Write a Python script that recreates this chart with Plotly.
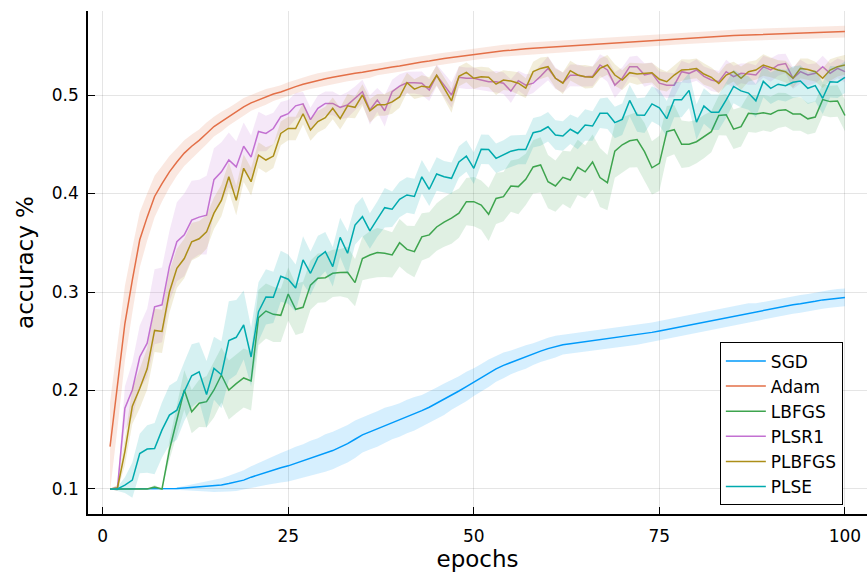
import plotly.graph_objects as go

# Training accuracy per epoch (mean over runs) and spread (std, in thousandths)
epochs = list(range(1, 101))

sgd = [0.100, 0.100, 0.100, 0.100, 0.100, 0.100, 0.100, 0.100, 0.100, 0.1005,
       0.101, 0.1015, 0.102, 0.1025, 0.103, 0.104, 0.1055, 0.107, 0.109, 0.112,
       0.1145, 0.117, 0.1195, 0.1215, 0.1235, 0.126, 0.1285, 0.131, 0.1335, 0.1365,
       0.139, 0.1425, 0.146, 0.1505, 0.155, 0.158, 0.161, 0.1645, 0.1675, 0.170,
       0.1735, 0.1765, 0.1795, 0.183, 0.187, 0.191, 0.1955, 0.1995, 0.204, 0.2085,
       0.213, 0.2175, 0.222, 0.2255, 0.2285, 0.2315, 0.234, 0.237, 0.240, 0.2425,
       0.2445, 0.2465, 0.2475, 0.2485, 0.2495, 0.2505, 0.2515, 0.2525, 0.2535, 0.2545,
       0.2555, 0.2565, 0.2575, 0.259, 0.2605, 0.262, 0.2635, 0.265, 0.2665, 0.268,
       0.2695, 0.271, 0.2725, 0.274, 0.2755, 0.277, 0.2785, 0.2795, 0.281, 0.2825,
       0.284, 0.2855, 0.287, 0.288, 0.289, 0.2905, 0.292, 0.293, 0.294, 0.2945]

adam = [0.143, 0.204, 0.268, 0.312, 0.353, 0.376, 0.397, 0.410, 0.422, 0.432,
        0.441, 0.448, 0.454, 0.461, 0.468, 0.473, 0.478, 0.483, 0.488, 0.492,
        0.495, 0.498, 0.501, 0.503, 0.506, 0.5085, 0.511, 0.513, 0.515, 0.5165,
        0.518, 0.5195, 0.521, 0.522, 0.523, 0.5245, 0.526, 0.527, 0.5285, 0.5295,
        0.531, 0.532, 0.5335, 0.5345, 0.536, 0.537, 0.538, 0.539, 0.5405, 0.5415,
        0.5425, 0.5435, 0.544, 0.545, 0.5455, 0.5465, 0.547, 0.5475, 0.548, 0.5485,
        0.549, 0.5495, 0.550, 0.5505, 0.551, 0.5515, 0.552, 0.5525, 0.553, 0.5535,
        0.554, 0.5545, 0.555, 0.5555, 0.556, 0.5565, 0.557, 0.5575, 0.558, 0.5585,
        0.559, 0.5593, 0.5597, 0.560, 0.5603, 0.5607, 0.561, 0.5613, 0.5617, 0.562,
        0.5623, 0.5626, 0.5629, 0.5632, 0.5634, 0.5636, 0.5638, 0.564, 0.5642, 0.5644]

lbfgs = [0.100, 0.100, 0.100, 0.100, 0.100, 0.100, 0.102, 0.100, 0.1396, 0.170,
         0.2005, 0.1785, 0.187, 0.1887, 0.2005, 0.2157, 0.2005, 0.207, 0.2127, 0.2096,
         0.274, 0.2807, 0.2773, 0.2763, 0.298, 0.2824, 0.2845, 0.307, 0.314, 0.3145,
         0.319, 0.3197, 0.320, 0.3095, 0.334, 0.3376, 0.340, 0.3393, 0.3376, 0.350,
         0.3433, 0.341, 0.356, 0.358, 0.366, 0.371, 0.375, 0.380, 0.3917, 0.3917,
         0.3883, 0.3789, 0.395, 0.3968, 0.4076, 0.407, 0.4144, 0.427, 0.429, 0.412,
         0.4076, 0.4164, 0.4137, 0.4266, 0.422, 0.432, 0.4162, 0.411, 0.443, 0.4495,
         0.4535, 0.4547, 0.4425, 0.4261, 0.4306, 0.4628, 0.4648, 0.450, 0.450, 0.4526,
         0.4577, 0.4628, 0.4792, 0.480, 0.4653, 0.4678, 0.4814, 0.4807, 0.482, 0.4805,
         0.4844, 0.4851, 0.4807, 0.4807, 0.4758, 0.4776, 0.4953, 0.4933, 0.494, 0.4792]

plsr1 = [0.100, 0.101, 0.182, 0.2005, 0.234, 0.248, 0.285, 0.287, 0.326, 0.351,
         0.358, 0.373, 0.376, 0.378, 0.414, 0.422, 0.434, 0.427, 0.448, 0.437,
         0.463, 0.461, 0.466, 0.478, 0.481, 0.489, 0.491, 0.475, 0.4865, 0.4915,
         0.4915, 0.4875, 0.490, 0.4966, 0.5034, 0.4848, 0.495, 0.484, 0.5034, 0.509,
         0.5125, 0.5125, 0.512, 0.505, 0.520, 0.510, 0.500, 0.518, 0.517, 0.517,
         0.515, 0.5135, 0.5135, 0.512, 0.504, 0.5146, 0.510, 0.512, 0.519, 0.527,
         0.517, 0.5125, 0.520, 0.520, 0.5186, 0.519, 0.5305, 0.5254, 0.510, 0.517,
         0.5288, 0.5288, 0.5203, 0.522, 0.512, 0.510, 0.510, 0.5237, 0.522, 0.5254,
         0.519, 0.5152, 0.5135, 0.5237, 0.5186, 0.522, 0.5213, 0.5203, 0.5288, 0.5254,
         0.5305, 0.532, 0.517, 0.5237, 0.5203, 0.522, 0.5288, 0.522, 0.527, 0.5237]

plbfgs = [0.100, 0.101, 0.138, 0.184, 0.202, 0.222, 0.261, 0.260, 0.300, 0.324,
          0.334, 0.351, 0.354, 0.361, 0.380, 0.393, 0.417, 0.393, 0.4256, 0.412,
          0.439, 0.434, 0.438, 0.461, 0.466, 0.466, 0.481, 0.4645, 0.473, 0.477,
          0.4865, 0.476, 0.489, 0.4875, 0.500, 0.484, 0.490, 0.490, 0.493, 0.498,
          0.5125, 0.506, 0.509, 0.508, 0.520, 0.507, 0.494, 0.519, 0.523, 0.517,
          0.5186, 0.518, 0.511, 0.5152, 0.5142, 0.512, 0.507, 0.5237, 0.527, 0.5288,
          0.517, 0.512, 0.5247, 0.5203, 0.5186, 0.518, 0.527, 0.5305, 0.5203, 0.5152,
          0.5227, 0.5213, 0.522, 0.5227, 0.516, 0.5135, 0.5203, 0.5254, 0.526, 0.527,
          0.5213, 0.518, 0.5118, 0.5203, 0.5237, 0.517, 0.5237, 0.5254, 0.5305, 0.528,
          0.5254, 0.5237, 0.517, 0.527, 0.526, 0.5237, 0.517, 0.5254, 0.5288, 0.5305]

plse = [0.100, 0.100, 0.104, 0.109, 0.136, 0.1406, 0.141, 0.160, 0.175, 0.180,
        0.199, 0.215, 0.219, 0.196, 0.2225, 0.216, 0.2506, 0.254, 0.2665, 0.234,
        0.280, 0.295, 0.2946, 0.316, 0.313, 0.304, 0.3325, 0.319, 0.335, 0.341,
        0.3257, 0.3555, 0.3393, 0.368, 0.3765, 0.362, 0.374, 0.3856, 0.384, 0.394,
        0.3985, 0.397, 0.417, 0.4043, 0.4198, 0.417, 0.4154, 0.432, 0.438, 0.4256,
        0.445, 0.4447, 0.4357, 0.439, 0.443, 0.4447, 0.4447, 0.4617, 0.4635, 0.4678,
        0.4594, 0.4584, 0.4652, 0.461, 0.4695, 0.4685, 0.4814, 0.4814, 0.472, 0.4753,
        0.4945, 0.4797, 0.4794, 0.491, 0.487, 0.476, 0.4953, 0.4953, 0.5047, 0.4725,
        0.4888, 0.4825, 0.4825, 0.495, 0.5087, 0.5042, 0.502, 0.4941, 0.5138, 0.5068,
        0.511, 0.5095, 0.513, 0.5143, 0.5068, 0.5095, 0.4967, 0.5135, 0.513, 0.518]

sgd_sd = [0, 0, 0, 0, 0, 0, 0, 0, 0, 1,
          2, 3, 4, 5, 6, 7, 8, 9, 10, 11,
          12, 13, 14, 15, 16, 17, 17, 18, 18, 19,
          19, 19, 19, 19, 18, 18, 18, 18, 17, 17,
          17, 17, 16, 16, 16, 16, 15, 15, 15, 14,
          14, 14, 13, 13, 12, 12, 12, 11, 11, 11,
          11, 10, 10, 10, 10, 10, 10, 10, 10, 10,
          10, 10, 10, 10, 10, 10, 10, 10, 10, 10,
          10, 10, 10, 10, 10, 10, 10, 9, 9, 9,
          9, 9, 9, 9, 9, 9, 9, 9, 9, 9]

adam_sd = [45, 42, 38, 33, 28, 24, 21, 18, 16, 14,
           13, 12, 11, 11, 10, 10, 9, 9, 9, 8,
           8, 8, 7, 7, 7, 7, 7, 7, 7, 7,
           7, 7, 7, 7, 7, 7, 6, 6, 6, 6,
           6, 6, 6, 6, 6, 6, 6, 6, 6, 6,
           6, 6, 6, 6, 6, 6, 6, 6, 6, 6,
           6, 6, 6, 6, 6, 6, 6, 6, 6, 6,
           6, 6, 6, 6, 6, 6, 6, 6, 6, 6,
           6, 6, 6, 6, 6, 6, 6, 6, 6, 6,
           6, 6, 6, 6, 6, 6, 6, 6, 6, 6]

lbfgs_sd = [0, 0, 0, 0, 0, 0, 2, 0, 10, 15,
            20, 22, 24, 26, 28, 28, 30, 30, 30, 30,
            28, 28, 28, 27, 27, 26, 26, 25, 25, 25,
            24, 24, 26, 24, 22, 24, 25, 24, 23, 24,
            24, 26, 24, 23, 24, 25, 26, 25, 24, 25,
            25, 27, 26, 25, 26, 28, 26, 27, 28, 27,
            26, 27, 29, 28, 27, 28, 30, 28, 27, 28,
            27, 28, 29, 27, 28, 26, 25, 24, 23, 22,
            22, 21, 20, 21, 20, 20, 19, 19, 18, 18,
            18, 17, 17, 17, 16, 16, 16, 16, 16, 16]

plsr1_sd = [0, 3, 22, 28, 32, 35, 38, 38, 36, 40,
            42, 40, 38, 40, 32, 30, 28, 26, 24, 22,
            20, 18, 16, 15, 14, 13, 12, 12, 13, 12,
            12, 12, 13, 12, 12, 15, 12, 16, 12, 12,
            11, 11, 12, 11, 11, 12, 13, 11, 11, 11,
            10, 10, 11, 11, 12, 10, 11, 10, 11, 12,
            11, 10, 11, 11, 10, 10, 11, 12, 13, 11,
            10, 11, 12, 11, 12, 13, 12, 11, 10, 11,
            10, 11, 11, 12, 11, 10, 11, 10, 11, 12,
            11, 10, 11, 12, 11, 10, 11, 10, 10, 11]

plbfgs_sd = [0, 3, 14, 18, 20, 21, 22, 22, 21, 20,
             20, 19, 18, 17, 16, 16, 15, 15, 14, 14,
             13, 13, 12, 12, 12, 12, 11, 11, 11, 11,
             11, 11, 12, 11, 11, 12, 11, 11, 12, 11,
             10, 10, 11, 10, 10, 11, 12, 10, 10, 11,
             10, 10, 11, 10, 10, 11, 10, 10, 11, 10,
             10, 11, 10, 10, 12, 11, 10, 10, 11, 10,
             10, 11, 10, 10, 11, 10, 10, 11, 10, 10,
             11, 10, 10, 11, 10, 12, 10, 10, 11, 10,
             10, 11, 10, 10, 11, 10, 10, 11, 10, 10]

plse_sd = [0, 2, 8, 18, 20, 24, 26, 28, 30, 30,
           30, 32, 30, 34, 32, 34, 40, 38, 35, 30,
           30, 28, 26, 26, 25, 24, 24, 22, 22, 20,
           20, 20, 22, 20, 20, 18, 18, 20, 18, 18,
           18, 18, 17, 17, 17, 16, 16, 16, 16, 16,
           15, 15, 15, 15, 16, 15, 15, 15, 15, 15,
           15, 15, 15, 16, 16, 15, 15, 16, 16, 16,
           16, 17, 18, 18, 18, 18, 18, 18, 18, 18,
           18, 18, 18, 18, 17, 17, 17, 17, 16, 16,
           16, 16, 16, 16, 16, 16, 16, 16, 16, 16]

names = ["SGD", "Adam", "LBFGS", "PLSR1", "PLBFGS", "PLSE"]
means = [sgd, adam, lbfgs, plsr1, plbfgs, plse]
spreads = [sgd_sd, adam_sd, lbfgs_sd, plsr1_sd, plbfgs_sd, plse_sd]
colors = [(0, 154, 250), (227, 111, 71), (62, 164, 78),
          (195, 113, 210), (172, 142, 24), (0, 170, 174)]

x_ticks = [0, 25, 50, 75, 100]
y_ticks = [0.1, 0.2, 0.3, 0.4, 0.5]

FONT = "DejaVu Sans"

fig = go.Figure()
for name, m, sd, (r, g, b) in zip(names, means, spreads, colors):
    upper = [v + s / 1000 for v, s in zip(m, sd)]
    lower = [v - s / 1000 for v, s in zip(m, sd)]
    # ribbon: mean +/- std as a closed polygon
    fig.add_trace(go.Scatter(
        x=epochs + epochs[::-1], y=upper + lower[::-1],
        fill="toself", fillcolor=f"rgba({r},{g},{b},0.16)",
        line=dict(width=0), mode="lines", hoverinfo="skip", showlegend=False))
    fig.add_trace(go.Scatter(
        x=epochs, y=m, mode="lines", name=name,
        line=dict(color=f"rgb({r},{g},{b})", width=1.5)))

axis_common = dict(
    showgrid=True, gridcolor="rgba(0,0,0,0.1)", gridwidth=1,
    zeroline=False, showline=True, linecolor="black", linewidth=1.5,
    ticks="inside", ticklen=7, tickwidth=1.2, tickcolor="black",
    tickfont=dict(family=FONT, size=17, color="black"),
)

fig.update_layout(
    width=867, height=574,
    margin=dict(l=88, r=0, t=11, b=60),
    paper_bgcolor="white", plot_bgcolor="white",
    font=dict(family=FONT, color="black"),
    xaxis=dict(axis_common, range=[-1.97, 102.97], tickvals=x_ticks,
               ticktext=[str(t) for t in x_ticks], ticklabelstandoff=6,
               title=dict(text="epochs", font=dict(family=FONT, size=23), standoff=4)),
    yaxis=dict(axis_common, range=[0.0746, 0.5853], tickvals=y_ticks,
               ticktext=[f"{t:.1f}" for t in y_ticks], ticklabelstandoff=4,
               title=dict(text="accuracy %", font=dict(family=FONT, size=23), standoff=12)),
    legend=dict(
        x=0.969, y=0.179, xanchor="right", yanchor="middle",
        bgcolor="white", bordercolor="black", borderwidth=1,
        font=dict(family=FONT, size=17, color="black"),
        tracegroupgap=0, itemwidth=40,
    ),
    showlegend=True,
)

fig.write_html("out.html")
